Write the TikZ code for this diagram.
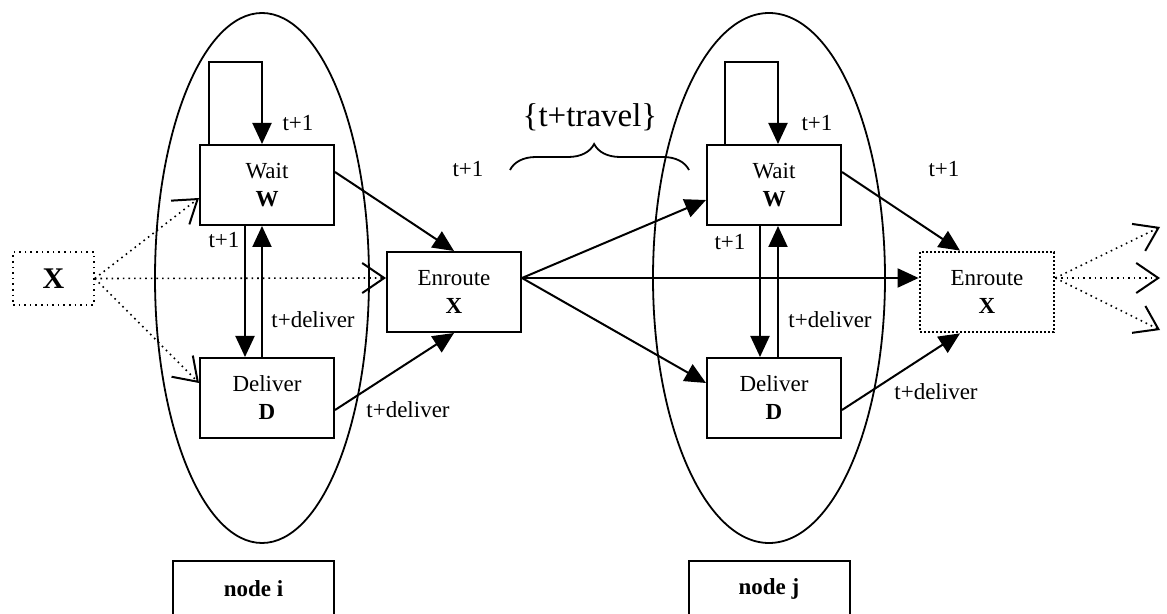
\documentclass[tikz,border=0pt]{standalone}
\usepackage{fontspec}
\setmainfont{Liberation Serif}
\usetikzlibrary{arrows.meta,decorations.pathreplacing}
\tikzset{
 state/.style={draw,line width=1pt,fill=white,minimum width=67pt,minimum height=40pt,
   align=center,inner sep=1pt,font=\fontsize{11.5}{14}\selectfont},
 arr/.style={line width=1pt,-{Triangle[length=10.5pt,width=9.5pt]}},
 darr/.style={line width=0.8pt,dotted,-{Straight Barb[length=11pt,width=15pt,line width=1pt]}},
 lbl/.style={font=\fontsize{11.5}{14}\selectfont,inner sep=0pt},
 tag/.style={draw,line width=1pt,minimum width=80.5pt,minimum height=28pt,
   font=\bfseries\fontsize{11.5}{14}\selectfont}
}
\begin{document}
\begin{tikzpicture}[x=0.5pt,y=-0.5pt]
\useasboundingbox (0,0) rectangle (1167,614);
% the two cities
\draw[line width=0.9pt] (262,278) ellipse [x radius=53.5pt,y radius=132.5pt];
\draw[line width=0.9pt] (769,278) ellipse [x radius=58pt,y radius=132.5pt];
% states
\node[state] (waitL) at (267,185) {Wait\\\textbf{W}};
\node[state] (delL) at (267,398) {Deliver\\\textbf{D}};
\node[state] (enrL) at (454,292) {Enroute\\\textbf{X}};
\node[state] (waitR) at (774,185) {Wait\\\textbf{W}};
\node[state] (delR) at (774,398) {Deliver\\\textbf{D}};
\node[state,densely dotted,line width=1.4pt] (enrR) at (987,292) {Enroute\\\textbf{X}};
\node[draw,dotted,line width=0.8pt,minimum width=40.5pt,minimum height=26.5pt,
  font=\bfseries\fontsize{15}{18}\selectfont] (src) at (53.5,278.5) {X};
\node[tag] (nodeI) at (253.5,589) {node i};
\node[tag] (nodeJ) at (769,589) {node j};
% node i
\draw[arr] ([xshift=-29pt]waitL.north) -- ++(0,-82) -| ([xshift=-2.5pt]waitL.north);
\draw[arr] ([xshift=-11pt]waitL.south) -- ([xshift=-11pt]delL.north);
\draw[arr] ([xshift=-2.5pt]delL.north) -- ([xshift=-2.5pt]waitL.south);
\draw[arr] ([yshift=6.5pt]waitL.east) -- (enrL.north);
\draw[arr] ([yshift=-6pt]delL.east) -- (enrL.south);
\draw[darr] (src.east) -- ([yshift=-6.5pt]waitL.west);
\draw[darr] (src.east) -- ([yshift=7pt]enrL.west);
\draw[darr] (src.east) -- ([yshift=7.5pt]delL.west);
\node[lbl] (l1) at (298,123) {t+1};
\node[lbl] (l2) at (224,240) {t+1};
\node[lbl] (l3) at (313,320) {t+deliver};
\node[lbl] (l4) at (468,169) {t+1};
\node[lbl] (l5) at (408,410) {t+deliver};
% node j
\draw[arr] ([xshift=-24.5pt]waitR.north) -- ++(0,-82) -| ([xshift=2pt]waitR.north);
\draw[arr] ([xshift=-7pt]waitR.south) -- ([xshift=-7pt]delR.north);
\draw[arr] ([xshift=2pt]delR.north) -- ([xshift=2pt]waitR.south);
\draw[arr] ([yshift=6.5pt]waitR.east) -- ([xshift=-13.5pt]enrR.north);
\draw[arr] ([yshift=-6pt]delR.east) -- ([xshift=-13.5pt]enrR.south);
\draw[arr] ([yshift=7pt]enrL.east) -- ([yshift=-7.5pt]waitR.west);
\draw[arr] ([yshift=7pt]enrL.east) -- ([yshift=7pt]enrR.west);
\draw[arr] ([yshift=7pt]enrL.east) -- ([yshift=7.5pt]delR.west);
\node[lbl] (r1) at (817,123) {t+1};
\node[lbl] (r2) at (730,242) {t+1};
\node[lbl] (r3) at (830,320) {t+deliver};
\node[lbl] (r4) at (944,169) {t+1};
\node[lbl] (r5) at (936,392) {t+deliver};
% onward
\coordinate (out1) at (1160,227);
\coordinate (out2) at (1160,278);
\coordinate (out3) at (1160,330);
\foreach \o in {out1,out2,out3}
  \draw[darr] ([yshift=7pt]enrR.east) -- (\o);
% travel time
\draw[line width=0.9pt,decorate,decoration={brace,amplitude=13pt,aspect=0.47}] (510,170) -- (689,170);
\node[font=\fontsize{16.5}{20}\selectfont] (travel) at (590,117) {\{t+travel\}};
\end{tikzpicture}
\end{document}
